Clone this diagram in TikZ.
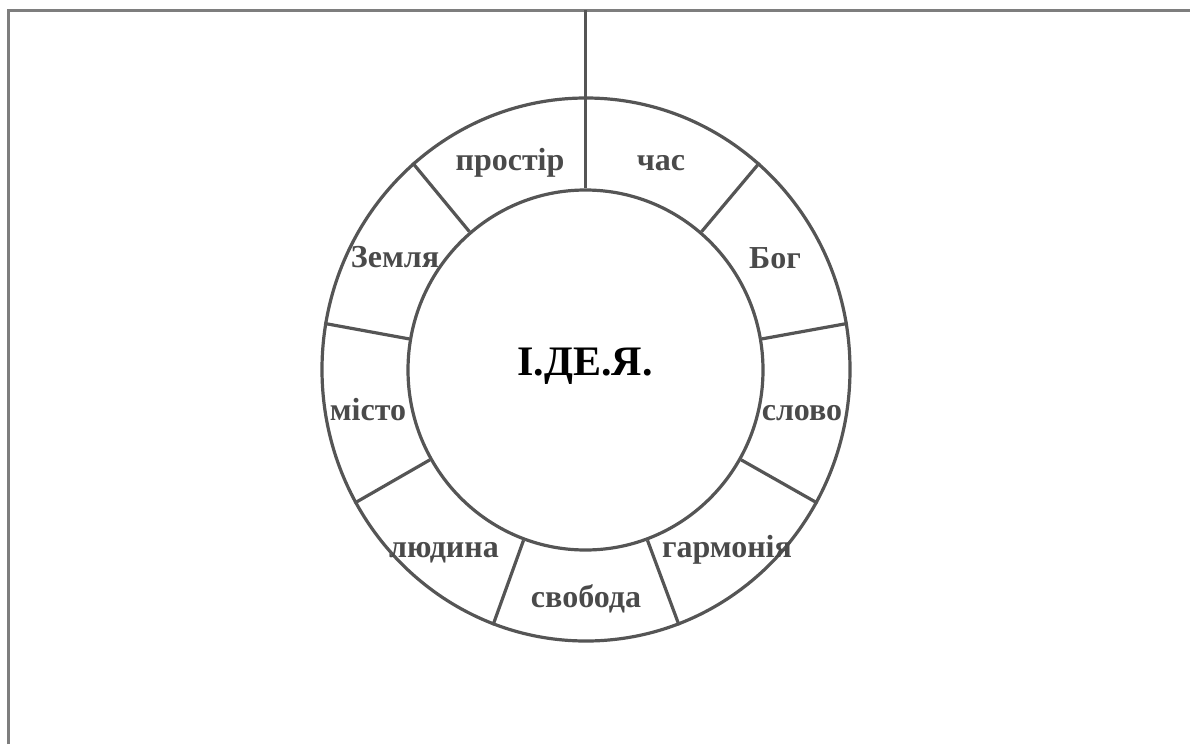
\documentclass[tikz,border=0pt]{standalone}
\usepackage{fontspec}
\setmainfont{Liberation Serif}
\usetikzlibrary{shapes.geometric}
\definecolor{linegray}{HTML}{555555}
\definecolor{framegray}{HTML}{7E7E7E}
\definecolor{labelgray}{HTML}{4A4A4A}
\begin{document}
\begin{tikzpicture}[x=1pt,y=-1pt,
  ring/.style={draw=linegray, line width=3.2pt, ellipse, inner sep=0pt},
  divider/.style={draw=linegray, line width=3.2pt},
  framestyle/.style={draw=framegray, line width=3pt},
  lbl/.style={text=labelgray, font=\fontsize{32}{32}\selectfont\bfseries, anchor=base, inner sep=0pt},
  title/.style={text=black, font=\fontsize{42}{42}\selectfont\bfseries, anchor=base, inner sep=0pt}]
\useasboundingbox (0,0) rectangle (1190,744);
% frame (top and left only)
\coordinate (fTL) at (8.5,10);
\coordinate (fTR) at (1190,10);
\coordinate (fBL) at (8.5,744);
\coordinate (fTop) at (585.5,10);
\draw[framestyle] (fBL) -- (fTL) -- (fTR);
% rings
\node[ring, minimum width=528pt, minimum height=543pt] (outer) at (586,369.5) {};
\node[ring, minimum width=355pt, minimum height=360pt] (inner) at (585.5,370) {};
% top line
\draw[divider, line width=3.4pt] (fTop) -- (inner.north);
% dividers
\foreach \a in {50,10,-30,-70,-110,-150,170,130}{
  \draw[divider] (inner.\a) -- (outer.\a);
}
% labels
\node[lbl] (prostir) at (510,170) {простір};
\node[lbl] (chas) at (661,170) {час};
\node[lbl] (boh) at (775,268) {Бог};
\node[lbl] (slovo) at (802,420) {слово};
\node[lbl] (zemlia) at (395,267) {Земля};
\node[lbl] (misto) at (368,420) {місто};
\node[lbl] (liudyna) at (444,557) {людина};
\node[lbl] (harmonia) at (727,557) {гармонія};
\node[lbl] (svoboda) at (586,607) {свобода};
\node[title] (idea) at (585,375) {І.ДЕ.Я.};
\end{tikzpicture}
\end{document}
